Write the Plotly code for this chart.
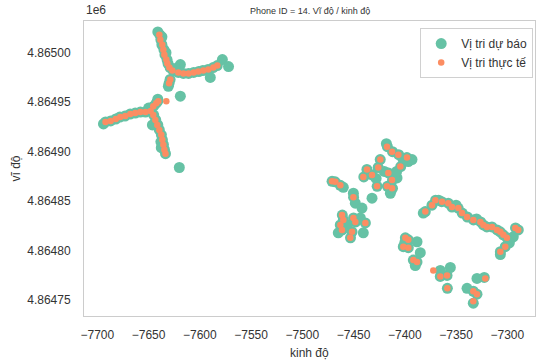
import plotly.graph_objects as go

# Actual positions (orange)
actual_lon = [
    -7639.5, -7638.5, -7636.6, -7635.6, -7634.6, -7632.7, -7631.7, -7629.7, -7626.8, -7621,
    -7616, -7611, -7606, -7601.5, -7596.6, -7591.7, -7586.8, -7582.9, -7628.8, -7630,
    -7692, -7687, -7682, -7677.6, -7672.7, -7667.8, -7663, -7658, -7653, -7648,
    -7645.4, -7642.5, -7640.5, -7632.7, -7645.4, -7643.4, -7641.5, -7639.5, -7637.6, -7636.6,
    -7635.6, -7634.6, -7633.5,
    -7417.4, -7412.5, -7406.3, -7397.9, -7404.4, -7423.9, -7425.9, -7436.9, -7440.5, -7432,
    -7427.1, -7416.1, -7412.5, -7412.5, -7417.4, -7471, -7467.8, -7462.9, -7450.2,
    -7461.3, -7460, -7450.2, -7448.3, -7438.5, -7462.9, -7461.3, -7451.5, -7453.2,
    -7380, -7373.5, -7370.2, -7363.7, -7357.6, -7354, -7347.8, -7344.2, -7339.3, -7333.2,
    -7326.3, -7323.4, -7319.8, -7314.9, -7310.1, -7306.8, -7303.9, -7300.3, -7302, -7306.8,
    -7292.2, -7289.3,
    -7399.5, -7396.6, -7401.5, -7396.6, -7391.7, -7388.1,
    -7372.2, -7365.4, -7358.8, -7358.5,
    -7321.5, -7333.2, -7329.6, -7333.2,
]
actual_lat = [
    4865018, 4865013, 4865008, 4865003, 4864998, 4864993, 4864989, 4864985, 4864982, 4864980,
    4864979, 4864979, 4864980, 4864981, 4864982, 4864983, 4864985, 4864987, 4864973, 4864969,
    4864930, 4864931, 4864933, 4864935, 4864936, 4864938, 4864939, 4864940, 4864940, 4864941,
    4864946, 4864949, 4864951, 4864951, 4864937, 4864932, 4864927, 4864922, 4864917, 4864912,
    4864907, 4864902, 4864898,
    4864905, 4864900, 4864897, 4864894, 4864885, 4864892, 4864884, 4864882, 4864874.5, 4864876.5,
    4864865, 4864878.5, 4864871.5, 4864863, 4864865, 4864870, 4864869.5, 4864866, 4864854,
    4864836, 4864831, 4864833, 4864829, 4864828, 4864826, 4864821, 4864819, 4864813,
    4864839.5, 4864846, 4864851, 4864849.5, 4864848, 4864844, 4864843, 4864838, 4864834, 4864831,
    4864829, 4864826, 4864824, 4864824, 4864821, 4864819, 4864816, 4864813, 4864804, 4864799,
    4864823, 4864821,
    4864813, 4864811, 4864804, 4864803, 4864790.5, 4864788.5,
    4864780, 4864774, 4864775, 4864762,
    4864772, 4864759, 4864756, 4864749,
]

# Predicted positions (green)
pred_lon = [
    -7639, -7638, -7637, -7635, -7634, -7632, -7631, -7629, -7626, -7621,
    -7616, -7611, -7606, -7601, -7597, -7592, -7587, -7583, -7629, -7630,
    -7578, -7572, -7589.8, -7619, -7630.7, -7619, -7641, -7637, -7633, -7624,
    -7692, -7687, -7682, -7678, -7673, -7668, -7663, -7658, -7653, -7648,
    -7645, -7642.5, -7641, -7645, -7643, -7641, -7639.5, -7637.5, -7636.5, -7635.5,
    -7634.5, -7633.5,
    -7694, -7646.3, -7637.6, -7620, -7641, -7650, -7638,
    -7417, -7412, -7406, -7398, -7404, -7424, -7426, -7437, -7440, -7432,
    -7427, -7416, -7412, -7412, -7417, -7471, -7468, -7463, -7450,
    -7396.6, -7407.6, -7432, -7414.1, -7460, -7450.2, -7448.3, -7441.8, -7420, -7428,
    -7393, -7408, -7418, -7402,
    -7461, -7460, -7450, -7448, -7438.5, -7463, -7461, -7451.5, -7453,
    -7440.5, -7443.4, -7464.9, -7456,
    -7380, -7373.5, -7370, -7364, -7357.6, -7354, -7348, -7344, -7339, -7333,
    -7326, -7323.4, -7320, -7315, -7310, -7307, -7304, -7300.3, -7302, -7306.8,
    -7292, -7289.3,
    -7382, -7367, -7294.2, -7306.8, -7298, -7330, -7350,
    -7399.5, -7396.6, -7401.5, -7396.6, -7391.7, -7388.1,
    -7388.1, -7384.9, -7389.8, -7400,
    -7365.4, -7358.8, -7358.5, -7365.4, -7355.6,
    -7329.6, -7339.3, -7333.2, -7329.6, -7333.2, -7322.5,
]
pred_lat = [
    4865018, 4865013, 4865008, 4865003, 4864998, 4864993, 4864989, 4864985, 4864982, 4864980,
    4864979, 4864979, 4864980, 4864981, 4864982, 4864983, 4864985, 4864987, 4864973, 4864969,
    4864993, 4864986, 4864975, 4864988, 4864966, 4864956, 4865021, 4865016, 4865000, 4864984,
    4864930, 4864931, 4864933, 4864935, 4864936, 4864938, 4864939, 4864940, 4864940, 4864941,
    4864946, 4864949, 4864951, 4864937, 4864932, 4864927, 4864922, 4864917, 4864912, 4864907,
    4864902, 4864898,
    4864928, 4864927, 4864904, 4864884, 4864953, 4864944, 4864910,
    4864905, 4864900, 4864897, 4864894, 4864885, 4864892, 4864884, 4864882, 4864874.5, 4864876.5,
    4864865, 4864878.5, 4864871.5, 4864863, 4864865, 4864870, 4864869.5, 4864866, 4864854,
    4864890, 4864873.5, 4864853, 4864858, 4864864, 4864858, 4864848, 4864843, 4864880, 4864873,
    4864892, 4864880, 4864908, 4864893,
    4864836, 4864831, 4864833, 4864829, 4864828, 4864826, 4864821, 4864819, 4864813,
    4864818, 4864833, 4864818, 4864826,
    4864839.5, 4864846, 4864851, 4864849.5, 4864848, 4864844, 4864843, 4864838, 4864834, 4864831,
    4864829, 4864826, 4864824, 4864824, 4864821, 4864819, 4864816, 4864813, 4864804, 4864799,
    4864823, 4864821,
    4864838, 4864851, 4864814, 4864796, 4864808, 4864832, 4864846,
    4864813, 4864811, 4864804, 4864803, 4864790.5, 4864788.5,
    4864809, 4864798, 4864785, 4864808,
    4864774, 4864775, 4864762, 4864780, 4864783,
    4864772, 4864762, 4864759, 4864756, 4864747, 4864773,
]

x_ticks = [-7700, -7650, -7600, -7550, -7500, -7450, -7400, -7350, -7300]
y_ticks = [4864750, 4864800, 4864850, 4864900, 4864950, 4865000]
y_tick_text = ["4.86475", "4.86480", "4.86485", "4.86490", "4.86495", "4.86500"]

FONT = "Liberation Sans, Arial, sans-serif"
TXT = "#333333"

fig = go.Figure()
fig.add_trace(go.Scatter(
    x=pred_lon, y=pred_lat, mode="markers", name="Vị tri dự báo",
    marker=dict(color="#66c2a5", size=11, line=dict(width=0)),
))
fig.add_trace(go.Scatter(
    x=actual_lon, y=actual_lat, mode="markers", name="Vị tri thực tế",
    marker=dict(color="#fc8d62", size=6.5, line=dict(width=0)),
))

fig.update_layout(
    width=537, height=363,
    margin=dict(l=84, r=2, t=21, b=47),
    paper_bgcolor="white", plot_bgcolor="white",
    font=dict(family=FONT, size=12, color=TXT),
    showlegend=True,
    legend=dict(
        x=0.996, y=0.976, xanchor="right", yanchor="top",
        bgcolor="white", bordercolor="#d0d0d0", borderwidth=1,
        font=dict(size=12, color=TXT), itemsizing="trace",
        tracegroupgap=0,
    ),
    xaxis=dict(
        range=[-7713, -7273], tickvals=x_ticks, showgrid=False, zeroline=False,
        showline=True, mirror=True, linecolor="#cccccc", linewidth=1,
        ticks="", ticklabelstandoff=8, tickfont=dict(size=12, color=TXT),
    ),
    yaxis=dict(
        range=[4864734, 4865032], tickvals=y_ticks, ticktext=y_tick_text,
        showgrid=False, zeroline=False,
        showline=True, mirror=True, linecolor="#cccccc", linewidth=1,
        ticks="", ticklabelstandoff=10, tickfont=dict(size=12, color=TXT),
    ),
    annotations=[
        dict(text="Phone ID = 14. Vĩ độ / kinh độ", x=0.5, y=1, xref="paper", yref="paper",
             xanchor="center", yanchor="bottom", yshift=3, showarrow=False,
             font=dict(size=9, color=TXT)),
        dict(text="1e6", x=0, y=1, xref="paper", yref="paper",
             xanchor="left", yanchor="bottom", yshift=2, showarrow=False,
             font=dict(size=12, color=TXT)),
        dict(text="kinh độ", x=0.5, y=0, xref="paper", yref="paper",
             xanchor="center", yanchor="top", yshift=-28, showarrow=False,
             font=dict(size=12, color=TXT)),
        dict(text="vĩ độ", x=0, y=0.5, xref="paper", yref="paper",
             xanchor="center", yanchor="middle", xshift=-69, textangle=-90,
             showarrow=False, font=dict(size=12, color=TXT)),
    ],
)

fig.write_html("out.html", config={"displayModeBar": False},
               post_script="document.body.style.margin='0px';")
